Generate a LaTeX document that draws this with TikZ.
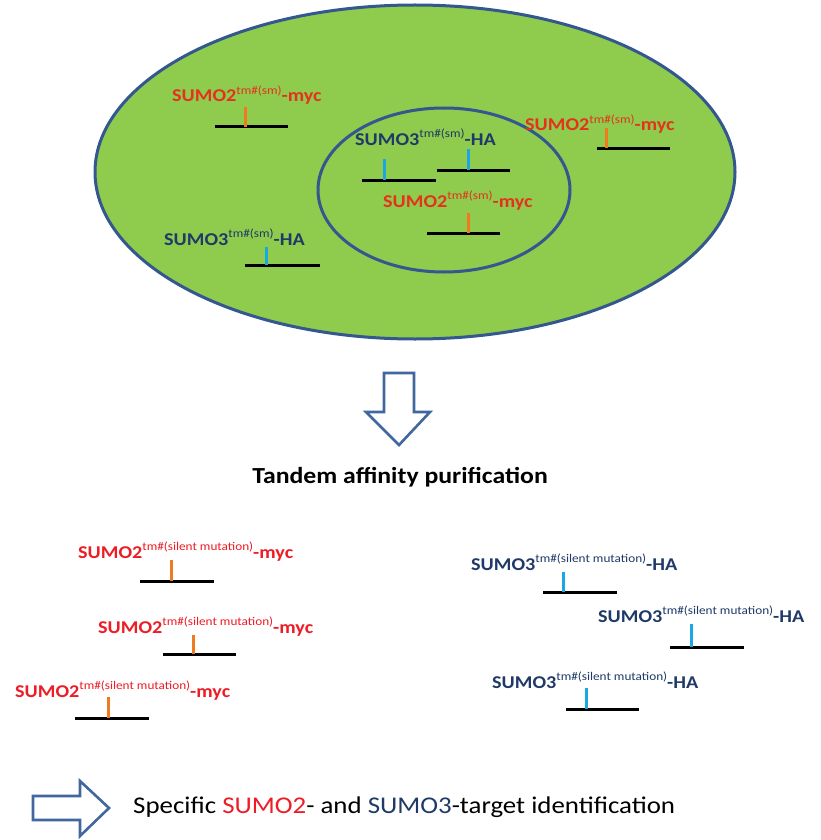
\documentclass[tikz,border=0pt]{standalone}
\usepackage{fontspec}
\setmainfont{Carlito}[FakeStretch=1.12]
\definecolor{cellgreen}{HTML}{8FCB4C}
\definecolor{rimblue}{HTML}{34578F}
\definecolor{sumored}{HTML}{EE1C24}
\definecolor{sumoredcell}{HTML}{E4321E}
\definecolor{sumonavy}{HTML}{1F3A68}
\definecolor{tagorange}{HTML}{F07A1E}
\definecolor{tagblue}{HTML}{1AA7E2}
\definecolor{arrowblue}{HTML}{41679F}

% superscript mutation tag
\newcommand\mutsup[1]{\raisebox{0.42em}{\fontsize{11.8}{12}\selectfont\mdseries tm\#(#1)}}

\tikzset{
  lbl/.style={anchor=base west, inner sep=0pt, font=\fontsize{18}{20}\selectfont\bfseries},
  chainline/.style={line width=3pt, black},
  tagmark/.style={line width=3pt},
  blockarrow/.style={draw=arrowblue, line width=2.6pt, fill=white, line join=miter},
  cell/.style={draw=rimblue, line width=3pt, fill=cellgreen},
  nucleus/.style={draw=rimblue, line width=3pt},
}

\begin{document}
\begin{tikzpicture}[x=1pt,y=-1pt]
\useasboundingbox (0,0) rectangle (820,840);

% cell and nucleus
\fill[white] (0,0) rectangle (820,840);
\draw[cell] (415,172) ellipse [x radius=320, y radius=167];
\draw[nucleus] (444,190) ellipse [x radius=126, y radius=82];

% constructs inside the cell
\node[lbl, text=sumoredcell] (c1) at (172,102) {SUMO2\mutsup{sm}-myc};
\coordinate (c1a) at (215,127); \coordinate (c1b) at (288,127);
\coordinate (c1t) at (245,127); \coordinate (c1u) at (245,107);

\node[lbl, text=sumonavy] (c2) at (355,145) {SUMO3\mutsup{sm}-HA};
\coordinate (c2a) at (362,180); \coordinate (c2b) at (436,180);
\coordinate (c2t) at (384,180); \coordinate (c2u) at (384,159);
\coordinate (c2c) at (437,170); \coordinate (c2d) at (510,170);
\coordinate (c2s) at (468,170); \coordinate (c2v) at (468,149);

\node[lbl, text=sumoredcell] (c3) at (383,207) {SUMO2\mutsup{sm}-myc};
\coordinate (c3a) at (427,233); \coordinate (c3b) at (500,233);
\coordinate (c3t) at (468,233); \coordinate (c3u) at (468,213);

\node[lbl, text=sumoredcell] (c4) at (525,131) {SUMO2\mutsup{sm}-myc};
\coordinate (c4a) at (597,148); \coordinate (c4b) at (670,148);
\coordinate (c4t) at (606,148); \coordinate (c4u) at (606,128);

\node[lbl, text=sumonavy] (c5) at (164,245) {SUMO3\mutsup{sm}-HA};
\coordinate (c5a) at (245,265); \coordinate (c5b) at (320,265);
\coordinate (c5t) at (266,265); \coordinate (c5u) at (266,247);

\foreach \k in {c1,c2,c3,c4,c5} \draw[chainline] (\k a) -- (\k b);
\draw[chainline] (c2c) -- (c2d);
\draw[tagmark, tagorange] (c1t) -- (c1u);
\draw[tagmark, tagblue] (c2t) -- (c2u);
\draw[tagmark, tagblue] (c2s) -- (c2v);
\draw[tagmark, tagorange] (c3t) -- (c3u);
\draw[tagmark, tagorange] (c4t) -- (c4u);
\draw[tagmark, tagblue] (c5t) -- (c5u);

% purification step
\draw[blockarrow] (384,373) -- (414,373) -- (414,412) -- (430,412) -- (399,445)
  -- (366,412) -- (384,412) -- cycle;
\node[anchor=base, inner sep=0pt, font=\fontsize{23}{26}\selectfont\bfseries] (tap) at (400,483)
  {Tandem affinity purification};

% purified SUMO2 conjugates
\node[lbl, text=sumored] (p1) at (78,558) {SUMO2\mutsup{silent mutation}-myc};
\coordinate (p1a) at (140,581); \coordinate (p1b) at (214,581);
\coordinate (p1t) at (171,581); \coordinate (p1u) at (171,560);

\node[lbl, text=sumored] (p2) at (98,633) {SUMO2\mutsup{silent mutation}-myc};
\coordinate (p2a) at (163,654); \coordinate (p2b) at (236,654);
\coordinate (p2t) at (193,654); \coordinate (p2u) at (193,635);

\node[lbl, text=sumored] (p3) at (15,697) {SUMO2\mutsup{silent mutation}-myc};
\coordinate (p3a) at (75,718); \coordinate (p3b) at (149,718);
\coordinate (p3t) at (108,718); \coordinate (p3u) at (108,697);

% purified SUMO3 conjugates
\node[lbl, text=sumonavy] (q1) at (471,570) {SUMO3\mutsup{silent mutation}-HA};
\coordinate (q1a) at (543,592); \coordinate (q1b) at (617,592);
\coordinate (q1t) at (563,592); \coordinate (q1u) at (563,572);

\node[lbl, text=sumonavy] (q2) at (598,622) {SUMO3\mutsup{silent mutation}-HA};
\coordinate (q2a) at (670,647); \coordinate (q2b) at (744,647);
\coordinate (q2t) at (691,647); \coordinate (q2u) at (691,624);

\node[lbl, text=sumonavy] (q3) at (492,688) {SUMO3\mutsup{silent mutation}-HA};
\coordinate (q3a) at (566,709); \coordinate (q3b) at (639,709);
\coordinate (q3t) at (586,709); \coordinate (q3u) at (586,688);

\foreach \k in {p1,p2,p3,q1,q2,q3} \draw[chainline] (\k a) -- (\k b);
\foreach \k in {p1,p2,p3} \draw[tagmark, tagorange] (\k t) -- (\k u);
\foreach \k in {q1,q2,q3} \draw[tagmark, tagblue] (\k t) -- (\k u);

% identification step
\draw[blockarrow] (33,796) -- (80,796) -- (80,781) -- (109,808) -- (80,836)
  -- (80,820) -- (33,820) -- cycle;
\node[anchor=base west, inner sep=0pt, font=\fontsize{24}{27}\selectfont] (ident) at (133,813)
  {Specific \textcolor{sumored}{SUMO2}- and \textcolor{sumonavy}{SUMO3}-target identification};
\end{tikzpicture}
\end{document}
